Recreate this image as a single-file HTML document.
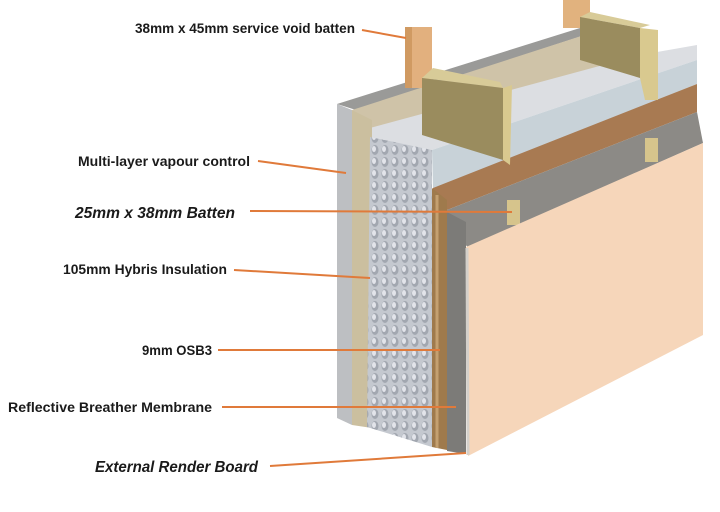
<!DOCTYPE html>
<html><head><meta charset="utf-8"><style>
html,body{margin:0;padding:0;background:#fff;}
svg{display:block;}
text{font-family:"Liberation Sans",Arial,sans-serif;font-weight:bold;fill:#1a1a1a;}
</style></head><body>
<svg width="720" height="512" viewBox="0 0 720 512" xmlns="http://www.w3.org/2000/svg">
<defs>
<pattern id="dimp" width="10" height="12" patternUnits="userSpaceOnUse">
<rect width="10" height="12" fill="#c4c8cf"/>
<ellipse cx="5" cy="6" rx="3.5" ry="5" fill="#a2a7b0"/>
<ellipse cx="4" cy="5" rx="2" ry="3" fill="#e2e4ea"/>
</pattern>
</defs>
<polygon points="337,104 580,28 600,30 356,110" fill="#9a9a98"/>
<polygon points="352,110 600,30 640,40 640,60 372,128" fill="#cfc3a8"/>
<polygon points="370,128 640,55 697,45 697,60 432,150 372,140" fill="#dcdee2"/>
<polygon points="432,150 697,60 697,84 433,190" fill="#c8d2d8"/>
<polygon points="433,188 697,84 697,112 447,210 433,210" fill="#a87a52"/>
<polygon points="447,210 697,112 703,143 468,247 447,230" fill="#8c8a86"/>
<polygon points="337,104 352,110 352,425 337,418" fill="#bdbfc2"/>
<polygon points="352,110 372,120 372,428 352,425" fill="#cbbf9f"/>
<polygon points="370,137 432,150 432,447 367,427" fill="url(#dimp)"/>
<polygon points="432,188 447,200 447,450 432,447" fill="#9f7a4c"/>
<line x1="437" y1="195" x2="437" y2="448" stroke="#c4a070" stroke-width="3"/>
<polygon points="447,212 466,222 466,454 447,451" fill="#7c7b78"/>
<rect x="507" y="200" width="13" height="25" fill="#d6c48c"/>
<rect x="645" y="138" width="13" height="24" fill="#d6c48c"/>
<polygon points="466,247 703,143 703,335 468,456" fill="#f6d6ba"/>
<line x1="467" y1="248" x2="468" y2="455" stroke="#d4d0ca" stroke-width="3"/>
<rect x="563" y="0" width="27" height="28" fill="#e1b27e"/>
<polygon points="580,17 590,12 650,25 640,28" fill="#d8cb98"/>
<polygon points="580,17 640,28 640,78 580,60" fill="#9a8c5e"/>
<polygon points="640,28 658,30 658,100 645,100 640,78" fill="#d9c98f"/>
<rect x="405" y="27" width="27" height="61" fill="#e2b07e"/>
<rect x="405" y="27" width="7" height="61" fill="#d09a62"/>
<polygon points="422,78 433,68 500,82 503,88" fill="#d8cb98"/>
<polygon points="422,78 503,88 503,160 422,135" fill="#9a8c5e"/>
<polygon points="503,88 512,85 510,165 503,160" fill="#d9c98f"/>
<g stroke="#e07a3a" stroke-width="2" fill="none">
<line x1="362" y1="30" x2="406" y2="38"/>
<line x1="258" y1="161" x2="346" y2="173"/>
<line x1="250" y1="211" x2="512" y2="212"/>
<line x1="234" y1="270" x2="370" y2="278"/>
<line x1="218" y1="350" x2="440" y2="350"/>
<line x1="222" y1="407" x2="456" y2="407"/>
<line x1="270" y1="466" x2="466" y2="453"/>
</g>
<text x="135" y="33" font-size="13.5" textLength="220" lengthAdjust="spacingAndGlyphs">38mm x 45mm  service void batten</text>
<text x="78" y="166" font-size="13.5" textLength="172" lengthAdjust="spacingAndGlyphs">Multi-layer vapour control</text>
<text x="75" y="218" font-size="15.5" font-style="italic" textLength="160" lengthAdjust="spacingAndGlyphs">25mm x 38mm Batten</text>
<text x="63" y="274" font-size="13.5" textLength="164" lengthAdjust="spacingAndGlyphs">105mm Hybris Insulation</text>
<text x="142" y="355" font-size="13.5" textLength="70" lengthAdjust="spacingAndGlyphs">9mm OSB3</text>
<text x="8" y="412" font-size="13.5" textLength="204" lengthAdjust="spacingAndGlyphs">Reflective Breather Membrane</text>
<text x="95" y="472" font-size="15.5" font-style="italic" textLength="163" lengthAdjust="spacingAndGlyphs">External Render Board</text>
</svg>
</body></html>
